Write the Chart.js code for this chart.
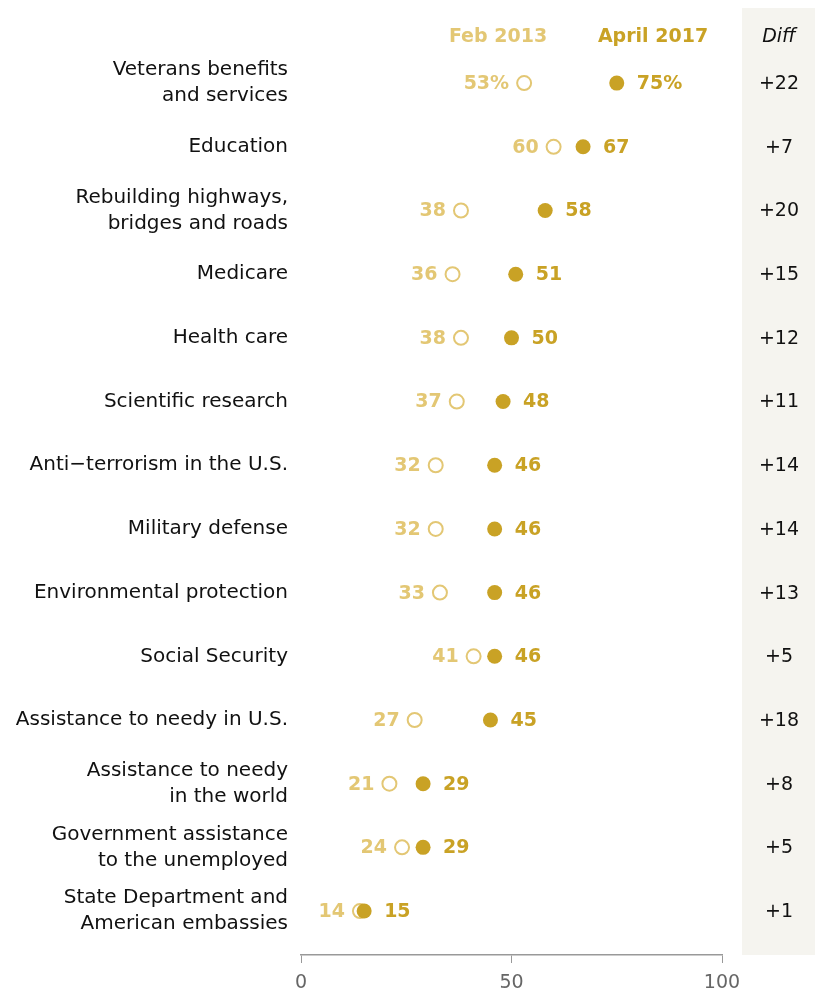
<!DOCTYPE html>
<html>
<head>
<meta charset="utf-8">
<script src="https://cdn.jsdelivr.net/npm/chart.js@4"></script>
<style>
  body { margin: 0; background: #fff; }
  #wrap { width: 815px; height: 992px; }
</style>
</head>
<body>
<div id="wrap"><canvas id="dotChart" width="815" height="992"></canvas></div>
<script>
// data
const categories = [
  ['Veterans benefits', 'and services'],
  'Education',
  ['Rebuilding highways,', 'bridges and roads'],
  'Medicare',
  'Health care',
  'Scientific research',
  'Anti\u2212terrorism in the U.S.',
  'Military defense',
  'Environmental protection',
  'Social Security',
  'Assistance to needy in U.S.',
  ['Assistance to needy', 'in the world'],
  ['Government assistance', 'to the unemployed'],
  ['State Department and', 'American embassies']
]
const feb2013 = [53, 60, 38, 36, 38, 37, 32, 32, 33, 41, 27, 21, 24, 14]
const apr2017 = [75, 67, 58, 51, 50, 48, 46, 46, 46, 46, 45, 29, 29, 15]
const diffs = ['+22', '+7', '+20', '+15', '+12', '+11', '+14', '+14', '+13', '+5', '+18', '+8', '+5', '+1']
const xTicks = [0, 50, 100]

const febColor = '#e3c774'
const aprColor = '#c9a225'
const fontFam = '"DejaVu Sans", sans-serif'

function toPoints(values){
  return values.map((v, i) => ({x: v, y: i}))
}

// value labels, headers and the Diff column
const annotate = {
  id: 'annotate',
  beforeDatasetsDraw(chart){
    const ctx = chart.ctx
    const area = chart.chartArea
    ctx.save()
    ctx.fillStyle = '#f5f4ef'
    ctx.fillRect(742, 8, 815 - 742, area.bottom - 8)
    ctx.restore()
  },
  afterDatasetsDraw(chart){
    const ctx = chart.ctx
    const xs = chart.scales.x
    const ys = chart.scales.y
    ctx.save()
    ctx.textBaseline = 'middle'

    // headers
    ctx.font = 'bold 19px ' + fontFam
    ctx.textAlign = 'center'
    ctx.fillStyle = febColor
    ctx.fillText('Feb 2013', 498, 37)
    ctx.fillStyle = aprColor
    ctx.fillText('April 2017', 653, 37)
    ctx.font = 'italic 19px ' + fontFam
    ctx.fillStyle = '#111'
    ctx.fillText('Diff', 779, 37)

    categories.forEach((c, i) => {
      const y = ys.getPixelForValue(i)
      const suffix = i == 0 ? '%' : ''
      ctx.font = 'bold 19px ' + fontFam
      ctx.textAlign = 'right'
      ctx.fillStyle = febColor
      ctx.fillText(feb2013[i] + suffix, xs.getPixelForValue(feb2013[i]) - 15, y + 1)
      ctx.textAlign = 'left'
      ctx.fillStyle = aprColor
      ctx.fillText(apr2017[i] + suffix, xs.getPixelForValue(apr2017[i]) + 20, y + 1)

      ctx.font = '19px ' + fontFam
      ctx.textAlign = 'center'
      ctx.fillStyle = '#111'
      ctx.fillText(diffs[i], 779, y + 1)
    })
    ctx.restore()
  }
}

const dotChart = new Chart(document.querySelector('#dotChart'), {
  type: 'scatter',
  data: {
    datasets: [
      {
        label: 'Feb 2013',
        data: toPoints(feb2013),
        order: 2,
        pointRadius: 7,
        pointBorderWidth: 2,
        borderColor: febColor,
        backgroundColor: 'rgba(255,255,255,0)',
        pointBackgroundColor: 'rgba(255,255,255,0)',
        pointBorderColor: febColor
      },
      {
        label: 'April 2017',
        data: toPoints(apr2017),
        order: 1,
        pointRadius: 7.5,
        pointBorderWidth: 0,
        pointBackgroundColor: aprColor,
        pointBorderColor: aprColor
      }
    ]
  },
  options: {
    responsive: false,
    animation: false,
    clip: false,
    layout: { padding: { top: 50, right: 93, left: 0, bottom: 0 } },
    plugins: {
      legend: { display: false },
      tooltip: { enabled: false }
    },
    scales: {
      x: {
        type: 'linear',
        min: 0,
        max: 100,
        afterBuildTicks: (scale) => { scale.ticks = xTicks.map(v => ({value: v})) },
        afterFit: (scale) => {
          scale.height = 37
          scale.paddingLeft = 0
          scale.paddingRight = 0
        },
        grid: { drawOnChartArea: false, drawTicks: true, tickLength: 8, color: '#999' },
        border: { display: true, color: '#999', width: 1.5 },
        ticks: { color: '#666', padding: 9, font: { family: fontFam, size: 19 } }
      },
      y: {
        type: 'linear',
        reverse: true,
        min: -0.52,
        max: 13.69,
        afterBuildTicks: (scale) => { scale.ticks = categories.map((c, i) => ({value: i})) },
        afterFit: (scale) => {
          scale.width = 301
          scale.paddingTop = 0
          scale.paddingBottom = 0
        },
        grid: { display: false, drawTicks: false },
        border: { display: false },
        ticks: {
          color: '#111',
          padding: 13,
          autoSkip: false,
          font: { family: fontFam, size: 20, lineHeight: 1.3 },
          callback: (v) => categories[v]
        }
      }
    }
  },
  plugins: [annotate]
})
</script>
</body>
</html>
